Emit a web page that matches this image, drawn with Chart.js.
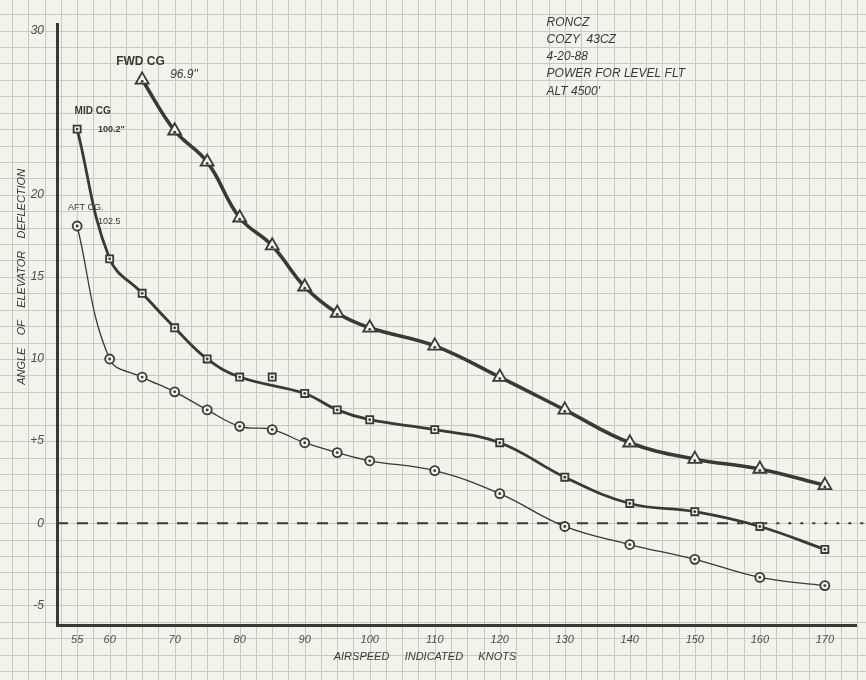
<!DOCTYPE html>
<html>
<head>
<meta charset="utf-8">
<script src="https://cdn.jsdelivr.net/npm/chart.js@4"></script>
<style>
  html, body { margin: 0; padding: 0; background: #f3f2eb; }
  #wrap { width: 866px; height: 680px; }
</style>
</head>
<body>
<div id="wrap"><canvas id="elevChart"></canvas></div>
<script>
// airspeed (knots) and elevator deflection (deg)
const fwdSpeed = [65, 70, 75, 80, 85, 90, 95, 100, 110, 120, 130, 140, 150, 160, 170];
const fwdAngle = [27.0, 23.9, 22.0, 18.6, 16.9, 14.4, 12.8, 11.9, 10.8, 8.9, 6.9, 4.9, 3.9, 3.3, 2.3];

const midSpeed = [55, 60, 65, 70, 75, 80, 90, 95, 100, 110, 120, 130, 140, 150, 160, 170];
const midAngle = [24.0, 16.1, 14.0, 11.9, 10.0, 8.9, 7.9, 6.9, 6.3, 5.7, 4.9, 2.8, 1.2, 0.7, -0.2, -1.6];
// plotted but left off the faired curve
const midOffSpeed = [85];
const midOffAngle = [8.9];

const aftSpeed = [55, 60, 65, 70, 75, 80, 85, 90, 95, 100, 110, 120, 130, 140, 150, 160, 170];
const aftAngle = [18.1, 10.0, 8.9, 8.0, 6.9, 5.9, 5.7, 4.9, 4.3, 3.8, 3.2, 1.8, -0.2, -1.3, -2.2, -3.3, -3.8];

const xTickLabels = [55, 60, 70, 80, 90, 100, 110, 120, 130, 140, 150, 160, 170];
const yTickLabels = [-5, 0, 5, 10, 15, 20, 30];

const notes = ["RONCZ", "COZY  43CZ", "4-20-88", "POWER FOR LEVEL FLT", "ALT 4500'"];

const ink = "#363b34";
const paper = "#f3f2eb";
const hand = "italic 12px 'Liberation Sans', sans-serif";

function pts(xs, ys) {
    return xs.map(function (x, i) { return { x: x, y: ys[i] }; });
}

// graph paper behind everything, 2.5 kt by 1 deg squares
const paperGrid = {
    id: "paperGrid",
    beforeDraw: function (chart) {
        const ctx = chart.ctx;
        const xs = chart.scales.x, ys = chart.scales.y;
        ctx.save();
        ctx.fillStyle = paper;
        ctx.fillRect(0, 0, chart.width, chart.height);
        ctx.strokeStyle = "#c9cac2";
        ctx.lineWidth = 1;
        const x0 = Math.floor(xs.getValueForPixel(0) / 2.5) * 2.5;
        const x1 = xs.getValueForPixel(chart.width);
        for (let v = x0; v <= x1; v += 2.5) {
            const px = Math.round(xs.getPixelForValue(v)) + 0.5;
            ctx.beginPath(); ctx.moveTo(px, 0); ctx.lineTo(px, chart.height); ctx.stroke();
        }
        const y0 = Math.floor(ys.getValueForPixel(chart.height));
        const y1 = ys.getValueForPixel(0);
        for (let v = y0; v <= y1; v += 1) {
            const py = Math.round(ys.getPixelForValue(v)) + 0.5;
            ctx.beginPath(); ctx.moveTo(0, py); ctx.lineTo(chart.width, py); ctx.stroke();
        }
        // dashed zero line
        const zy = ys.getPixelForValue(0);
        ctx.strokeStyle = ink;
        ctx.lineWidth = 2;
        ctx.setLineDash([11, 9]);
        ctx.beginPath();
        ctx.moveTo(chart.chartArea.left, zy);
        ctx.lineTo(xs.getPixelForValue(157), zy);
        ctx.stroke();
        ctx.setLineDash([3, 9]);
        ctx.beginPath();
        ctx.moveTo(xs.getPixelForValue(157), zy);
        ctx.lineTo(chart.width, zy);
        ctx.stroke();
        ctx.restore();
    }
};

// hand lettering, centre dots in the markers
const lettering = {
    id: "lettering",
    afterDatasetsDraw: function (chart) {
        const ctx = chart.ctx;
        const xs = chart.scales.x, ys = chart.scales.y;
        ctx.save();
        ctx.fillStyle = ink;
        chart.data.datasets.forEach(function (ds, i) {
            chart.getDatasetMeta(i).data.forEach(function (p) {
                ctx.beginPath();
                ctx.arc(p.x, p.y + (ds.pointStyle === "triangle" ? 1.5 : 0), 1.4, 0, Math.PI * 2);
                ctx.fill();
            });
        });

        ctx.textBaseline = "middle";
        ctx.textAlign = "left";
        function put(t, x, y, f) {
            if (f) ctx.font = f;
            ctx.fillText(t, xs.getPixelForValue(x), ys.getPixelForValue(y));
        }
        put("FWD CG", 61.0, 28.1, "bold 12px 'Liberation Sans', sans-serif");
        put("96.9\"", 69.3, 27.3, hand);
        put("MID CG", 54.6, 25.1, "bold 10px 'Liberation Sans', sans-serif");
        put("100.2\"", 58.2, 24.0, "bold 9px 'Liberation Sans', sans-serif");
        put("AFT CG.", 53.6, 19.2, "9px 'Liberation Sans', sans-serif");
        put("102.5", 58.2, 18.4, "9px 'Liberation Sans', sans-serif");

        ctx.font = hand;
        notes.forEach(function (t, i) {
            put(t, 127.2, 30.5 - i * 1.05);
        });

        // axis titles
        ctx.font = "italic 11px 'Liberation Sans', sans-serif";
        ctx.textAlign = "center";
        ctx.fillText("AIRSPEED     INDICATED     KNOTS", xs.getPixelForValue(108.5), 657);
        ctx.translate(22, ys.getPixelForValue(15));
        ctx.rotate(-Math.PI / 2);
        ctx.fillText("ANGLE    OF    ELEVATOR    DEFLECTION", 0, 0);
        ctx.restore();
    }
};

function series(label, data, style, radius, width, line) {
    return {
        label: label,
        data: data,
        showLine: line,
        tension: 0.4,
        borderColor: ink,
        borderWidth: width,
        pointStyle: style,
        pointRadius: radius,
        pointBorderWidth: 1.8,
        pointBackgroundColor: paper,
        pointBorderColor: ink
    };
}

new Chart(document.getElementById("elevChart"), {
    type: "scatter",
    data: {
        datasets: [
            series("FWD CG 96.9\"", pts(fwdSpeed, fwdAngle), "triangle", 7.5, 3.6, true),
            series("MID CG 100.2\"", pts(midSpeed, midAngle), "rect", 5, 2.8, true),
            series("MID CG off curve", pts(midOffSpeed, midOffAngle), "rect", 5, 2.8, false),
            series("AFT CG 102.5", pts(aftSpeed, aftAngle), "circle", 4.5, 1.3, true)
        ]
    },
    options: {
        responsive: true,
        maintainAspectRatio: false,
        animation: false,
        layout: { padding: { top: 24, right: 6, left: 0, bottom: 0 } },
        plugins: {
            legend: { display: false },
            tooltip: { enabled: false }
        },
        scales: {
            x: {
                type: "linear",
                min: 51.9,
                max: 174.9,
                grid: { display: false },
                border: { display: true, color: ink, width: 3 },
                afterBuildTicks: function (s) {
                    s.ticks = xTickLabels.map(function (v) { return { value: v }; });
                },
                afterFit: function (s) { s.height = 55; },
                ticks: {
                    autoSkip: false,
                    maxRotation: 0,
                    padding: 0,
                    color: "#4a4f48",
                    font: { family: "'Liberation Sans', sans-serif", size: 11, style: "italic" }
                }
            },
            y: {
                type: "linear",
                min: -6.2,
                max: 30.4,
                grid: { display: false },
                border: { display: true, color: ink, width: 3 },
                afterBuildTicks: function (s) {
                    s.ticks = yTickLabels.map(function (v) { return { value: v }; });
                },
                afterFit: function (s) { s.width = 57; },
                ticks: {
                    autoSkip: false,
                    padding: 5,
                    color: "#4a4f48",
                    font: { family: "'Liberation Sans', sans-serif", size: 12, style: "italic" },
                    callback: function (v) { return v === 5 ? "+5" : String(v); }
                }
            }
        }
    },
    plugins: [paperGrid, lettering]
});
</script>
</body>
</html>
